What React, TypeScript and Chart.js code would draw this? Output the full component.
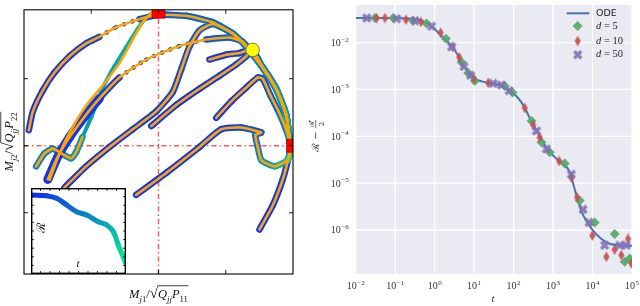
import React, { useEffect, useRef } from "react";
import { Chart, registerables } from "chart.js";
Chart.register(...registerables);

// ---------------- Left panel data (normalised overlaps) ----------------
const c1X = [-0.964, -0.934, -0.86, -0.773, -0.662, -0.538, -0.439, -0.315, -0.141, -0.005, 0.206, 0.404, 0.552, 0.664, 0.776, 0.875, 0.949, 0.979];
const c1Y = [0.116, 0.256, 0.413, 0.546, 0.667, 0.763, 0.812, 0.884, 0.944, 0.976, 0.969, 0.92, 0.836, 0.727, 0.582, 0.425, 0.232, 0.014];
const c2X = [-0.823, -0.749, -0.662, -0.538, -0.439, -0.29, -0.091, 0.156, 0.355, 0.528, 0.627, 0.677, 0.776, 0.875, 0.949, 0.979];
const c2Y = [-0.251, -0.082, 0.063, 0.232, 0.353, 0.509, 0.643, 0.744, 0.792, 0.807, 0.775, 0.715, 0.582, 0.425, 0.232, 0.014];
const o2X = [-0.81, -0.736, -0.647, -0.535, -0.416, -0.29, -0.193, -0.119, -0.052];
const o2Y = [-0.254, -0.058, 0.123, 0.304, 0.449, 0.616, 0.79, 0.92, 0.993];
const c3X = [-0.91, -0.848, -0.786, -0.721, -0.649, -0.61, -0.565, -0.498, -0.416, -0.327, -0.238, -0.156, -0.089, -0.03, 0.206, 0.404, 0.552, 0.664, 0.776, 0.875, 0.949, 0.979];
const c3Y = [-0.154, -0.058, -0.022, -0.058, -0.094, -0.043, 0.065, 0.217, 0.428, 0.594, 0.739, 0.87, 0.957, 0.993, 0.969, 0.92, 0.836, 0.727, 0.582, 0.425, 0.232, 0.014];
const c4X = [-0.699, -0.538, -0.364, -0.191, -0.017, 0.106, 0.169, 0.23, 0.305, 0.404, 0.552, 0.664, 0.776, 0.875, 0.949, 0.979];
const c4Y = [-0.312, -0.154, -0.009, 0.123, 0.256, 0.401, 0.57, 0.739, 0.86, 0.908, 0.836, 0.727, 0.582, 0.425, 0.232, 0.014];
const c5X = [-0.054, 0.132, 0.305, 0.454, 0.578, 0.652, 0.7, 0.776, 0.875, 0.949, 0.979];
const c5Y = [0.147, 0.304, 0.425, 0.522, 0.606, 0.667, 0.715, 0.582, 0.425, 0.232, 0.014];
const c6X = [0.379, 0.503, 0.602, 0.664, 0.776, 0.875, 0.949, 0.979];
const c6Y = [0.643, 0.679, 0.691, 0.71, 0.582, 0.425, 0.232, 0.014];
const c7X = [0.429, 0.543, 0.654, 0.738, 0.775, 0.83, 0.9, 0.96, 0.979];
const c7Y = [0.208, 0.333, 0.435, 0.509, 0.5, 0.38, 0.24, 0.09, 0.014];
const c8X = [-0.166, 0.057, 0.305, 0.466, 0.615, 0.764, 0.72, 0.738, 0.764, 0.862, 0.961, 0.987];
const c8Y = [-0.367, -0.203, -0.009, 0.123, 0.136, 0.099, 0.08, -0.009, -0.107, -0.154, -0.107, -0.034];
const c9X = [0.751, 0.85, 0.924, 0.969, 0.987];
const c9Y = [-0.625, -0.444, -0.251, -0.082, 0.014];
const fixedX = [0, 1];
const fixedY = [1, 0];
const circleX = [0.7];
const circleY = [0.715];
const leftTicks = [-0.5, 0, 0.5];

// inset
const insetT = [0.0, 0.165, 0.27, 0.376, 0.481, 0.586, 0.709, 0.797, 0.867, 0.919, 0.955, 0.995];
const insetR = [0.919, 0.91, 0.88, 0.802, 0.724, 0.686, 0.608, 0.57, 0.492, 0.337, 0.24, 0.13];

// ---------------- Right panel data ----------------
const odeT = [0.01, 0.288, 0.631, 1.02, 1.65, 2.69, 3.96, 5.3, 7.82, 11.5, 20.4, 44.7, 79.4, 117, 174, 257, 380, 562, 832, 1230, 2000, 2630, 3310, 4070, 5250, 6920, 10200, 16600, 26900, 49000, 100000];
const odeY = [0.0334, 0.0324, 0.0263, 0.0191, 0.01274, 0.00851, 0.00525, 0.00324, 0.00219, 0.00162, 0.00141, 0.00123, 0.000933, 0.000724, 0.000468, 0.000245, 0.000132, 7.41e-5, 4.57e-5, 3.31e-5, 2.4e-5, 1.74e-5, 9.1e-6, 4.79e-6, 2.51e-6, 1.58e-6, 9.8e-7, 6.5e-7, 5.1e-7, 4.7e-7, 4.6e-7];
const d5T = [0.0308, 0.0897, 0.288, 0.625, 1.93, 4.81, 7.1, 10.4, 60.0, 93.8, 284, 508, 826, 1980, 4740, 11350, 36400, 65300, 87300];
const d5Y = [0.0334, 0.0334, 0.0294, 0.0254, 0.01213, 0.00381, 0.00224, 0.00152, 0.00118, 0.000855, 0.000211, 7.43e-5, 4.58e-5, 2.61e-5, 4.25e-6, 1.45e-6, 8.2e-7, 2.1e-7, 2.47e-7];
const d10T = [0.034, 0.0552, 0.188, 0.45, 1.42, 2.84, 4.2, 9.86, 22.8, 192, 313, 461, 1420, 2920, 4060, 9910, 22400, 36400, 53700, 79300, 96200];
const d10Y = [0.0334, 0.0334, 0.0308, 0.0275, 0.0162, 0.0081, 0.00485, 0.00171, 0.00138, 0.000402, 0.000174, 9.46e-5, 2.97e-5, 1.31e-5, 4.99e-6, 7.6e-7, 2.68e-7, 3.81e-7, 2.9e-7, 6.49e-7, 1.94e-7];
const d50T = [0.019, 0.109, 0.317, 0.838, 2.69, 5.51, 8.13, 30.4, 49.4, 77.3, 380, 681, 2920, 5750, 8170, 20300, 48800, 71900];
const d50Y = [0.0334, 0.0324, 0.0294, 0.0223, 0.0081, 0.00309, 0.002, 0.00134, 0.00124, 0.000942, 0.00013, 5.38e-5, 1.54e-5, 2.75e-6, 1.45e-6, 4.7e-7, 4.7e-7, 4.7e-7];
const xTickExps = [-2, -1, 0, 1, 2, 3, 4, 5];
const yTickExps = [-2, -3, -4, -5, -6];
const legendLabels = ["ODE", "d = 5", "d = 10", "d = 50"];

// ---------------- helpers ----------------
const SERIF = '"Liberation Serif", "DejaVu Serif", serif';
const pts = (xs: number[], ys: number[]) => xs.map((x, i) => ({ x, y: ys[i] }));
const winter = (f: number) => `rgb(${Math.round(20 * (1 - f))},${Math.round(40 + 190 * f)},${Math.round(240 - 95 * f)})`;

type Part = { t: string; it?: boolean; sub?: boolean; sup?: boolean; ov?: boolean; big?: boolean };
function drawMath(ctx: CanvasRenderingContext2D, parts: Part[], x: number, y: number, size: number, color: string, align = "center") {
  const fontFor = (p: Part) => `${p.it ? "italic " : ""}${p.sub || p.sup ? size * 0.7 : p.big ? size * 1.2 : size}px ${SERIF}`;
  const widths = parts.map((p) => { ctx.font = fontFor(p); return ctx.measureText(p.t).width; });
  const total = widths.reduce((a, b) => a + b, 0);
  let cx = align === "center" ? x - total / 2 : align === "right" ? x - total : x;
  ctx.fillStyle = color;
  ctx.textAlign = "left";
  ctx.textBaseline = "alphabetic";
  let ovS: number | null = null;
  let ovE = 0;
  parts.forEach((p, i) => {
    ctx.font = fontFor(p);
    const dy = p.sub ? size * 0.28 : p.sup ? -size * 0.42 : 0;
    ctx.fillText(p.t, cx, y + dy);
    if (p.ov) { if (ovS === null) ovS = cx; ovE = cx + widths[i]; }
    cx += widths[i];
  });
  if (ovS !== null) {
    ctx.strokeStyle = color;
    ctx.lineWidth = 0.8;
    ctx.beginPath();
    ctx.moveTo(ovS - 0.5, y - size * 0.98);
    ctx.lineTo(ovE + 0.5, y - size * 0.98);
    ctx.stroke();
  }
}

function drawPow(ctx: CanvasRenderingContext2D, exp: number, x: number, y: number, align: string) {
  const e = exp < 0 ? "\u2212" + -exp : String(exp);
  ctx.font = `10px ${SERIF}`;
  const wb = ctx.measureText("10").width;
  ctx.font = `7px ${SERIF}`;
  const we = ctx.measureText(e).width;
  const total = wb + we + 0.5;
  const sx = align === "center" ? x - total / 2 : x - total;
  ctx.fillStyle = "#333";
  ctx.textAlign = "left";
  ctx.textBaseline = "alphabetic";
  ctx.font = `10px ${SERIF}`;
  ctx.fillText("10", sx, y);
  ctx.font = `7px ${SERIF}`;
  ctx.fillText(e, sx + wb + 0.5, y - 4.5);
}

export default function App() {
  const leftRef = useRef<HTMLCanvasElement>(null);
  const rightRef = useRef<HTMLCanvasElement>(null);
  const insetRef = useRef<HTMLCanvasElement>(null);

  useEffect(() => {
    const charts: Chart[] = [];

    // ---------- LEFT ----------
    const curveCfg = [
      { x: c1X, y: c1Y, f0: 0.05, f1: 0.65, dots: [6, 8], wide: [-1, -1], thin: [-1, -1], orange: true },
      { x: c2X, y: c2Y, f0: 0.05, f1: 0.6, dots: [5, 8], wide: [0, 4], thin: [-1, -1], orange: true },
      { x: c3X, y: c3Y, f0: 0.45, f1: 0.95, dots: [-1, -1], wide: [-1, -1], thin: [6, 14], orange: false },
      { x: c4X, y: c4Y, f0: 0.05, f1: 0.7, dots: [-1, -1], wide: [-1, -1], thin: [-1, -1], orange: true },
      { x: c5X, y: c5Y, f0: 0.05, f1: 0.5, dots: [-1, -1], wide: [-1, -1], thin: [-1, -1], orange: true },
      { x: c6X, y: c6Y, f0: 0.05, f1: 0.45, dots: [-1, -1], wide: [-1, -1], thin: [-1, -1], orange: true },
      { x: c7X, y: c7Y, f0: 0.05, f1: 0.5, dots: [-1, -1], wide: [-1, -1], thin: [-1, -1], orange: true },
      { x: c8X, y: c8Y, f0: 0.05, f1: 0.85, dots: [-1, -1], wide: [-1, -1], thin: [-1, -1], orange: true },
      { x: c9X, y: c9Y, f0: 0.05, f1: 0.25, dots: [-1, -1], wide: [-1, -1], thin: [-1, -1], orange: true },
    ];
    const inR = (i: number, r: number[]) => i >= r[0] && i < r[1];
    const leftDatasets: any[] = [];
    curveCfg.forEach((c, ci) => {
      const n = c.x.length;
      const prog = (i: number) => {
        const u = i / Math.max(1, n - 2);
        return ci === 2 ? u : u * u;
      };
      leftDatasets.push({
        data: pts(c.x, c.y), showLine: true, pointRadius: 0, borderWidth: 6.5, tension: 0.18,
        borderCapStyle: "round", borderJoinStyle: "round", borderColor: winter(c.f0), order: 2,
        segment: {
          borderColor: (ctx: any) => winter(c.f0 + (c.f1 - c.f0) * prog(ctx.p0DataIndex)),
          borderDash: (ctx: any) => (inR(ctx.p0DataIndex, c.dots) ? [0.1, 8.5] : undefined),
          borderWidth: (ctx: any) => (inR(ctx.p0DataIndex, c.dots) ? 4.5 : inR(ctx.p0DataIndex, c.wide) ? 9 : inR(ctx.p0DataIndex, c.thin) ? 4 : undefined),
        },
      });
      leftDatasets.push({
        data: c.orange ? pts(c.x, c.y) : pts(c.x.slice(0, 7), c.y.slice(0, 7)),
        showLine: true, pointRadius: 0, borderWidth: 2.6, tension: 0.18,
        borderCapStyle: "round", borderJoinStyle: "round", borderColor: "#FFA500", order: 1,
      });
    });
    leftDatasets.push({
      data: pts(o2X, o2Y), showLine: true, pointRadius: 0, borderWidth: 2.6, tension: 0.18,
      borderCapStyle: "round", borderColor: "#FFA500", order: 1,
    });
    // crosshair
    leftDatasets.push({
      data: [{ x: 0, y: -0.957 }, { x: 0, y: 1.014 }], showLine: true, pointRadius: 0, borderWidth: 1.5,
      borderColor: "rgba(255,60,60,0.85)", borderDash: [5, 3, 1.5, 3], order: 5,
    });
    leftDatasets.push({
      data: [{ x: -1, y: 0 }, { x: 1, y: 0 }], showLine: true, pointRadius: 0, borderWidth: 1.5,
      borderColor: "rgba(255,60,60,0.85)", borderDash: [5, 3, 1.5, 3], order: 5,
    });
    leftDatasets.push({
      data: pts(fixedX, fixedY), showLine: false, pointStyle: "rect", pointRadius: 9.2,
      backgroundColor: "#ff0000", borderColor: "#700000", borderWidth: 0.6, order: 0, clip: 0,
    });
    leftDatasets.push({
      data: pts(circleX, circleY), showLine: false, pointStyle: "circle", pointRadius: 6.8,
      backgroundColor: "#ffff00", borderColor: "#444", borderWidth: 0.7, order: 0,
    });

    const leftPlugin = {
      id: "leftDeco",
      afterDraw(chart: any) {
        const ctx = chart.ctx as CanvasRenderingContext2D;
        const { left, right, top, bottom } = chart.chartArea;
        const xs = chart.scales.x, ys = chart.scales.y;
        ctx.save();
        ctx.strokeStyle = "#000";
        ctx.lineWidth = 1.1;
        ctx.strokeRect(left, top, right - left, bottom - top);
        ctx.lineWidth = 0.9;
        ctx.beginPath();
        leftTicks.forEach((v) => {
          const px = xs.getPixelForValue(v);
          ctx.moveTo(px, bottom); ctx.lineTo(px, bottom - 4);
          ctx.moveTo(px, top); ctx.lineTo(px, top + 4);
          const py = ys.getPixelForValue(v);
          ctx.moveTo(left, py); ctx.lineTo(left + 4, py);
          ctx.moveTo(right, py); ctx.lineTo(right - 4, py);
        });
        ctx.stroke();
        drawMath(ctx, [
          { t: "M", it: true }, { t: "j", it: true, sub: true }, { t: "1", sub: true }, { t: "/" }, { t: "\u221A", big: true },
          { t: "Q", it: true, ov: true }, { t: "jj", it: true, sub: true, ov: true }, { t: "P", it: true, ov: true }, { t: "11", sub: true, ov: true },
        ], (left + right) / 2, 298, 12.5, "#111");
        ctx.translate(13, (top + bottom) / 2);
        ctx.rotate(-Math.PI / 2);
        drawMath(ctx, [
          { t: "M", it: true }, { t: "j", it: true, sub: true }, { t: "2", sub: true }, { t: "/" }, { t: "\u221A", big: true },
          { t: "Q", it: true, ov: true }, { t: "jj", it: true, sub: true, ov: true }, { t: "P", it: true, ov: true }, { t: "22", sub: true, ov: true },
        ], 0, 0, 12.5, "#111");
        ctx.restore();
      },
    };

    charts.push(new Chart(leftRef.current!, {
      type: "scatter",
      data: { datasets: leftDatasets },
      options: {
        responsive: false, animation: false,
        layout: { padding: { left: 24, right: 27, top: 2, bottom: 32 } },
        plugins: { legend: { display: false }, tooltip: { enabled: false } },
        scales: {
          x: { type: "linear", min: -1, max: 1, display: false },
          y: { type: "linear", min: -0.957, max: 1.014, display: false },
        },
      },
      plugins: [leftPlugin],
    } as any));

    // ---------- INSET ----------
    const nI = insetT.length;
    const insetPlugin = {
      id: "insetDeco",
      beforeDatasetsDraw(chart: any) {
        const ctx = chart.ctx as CanvasRenderingContext2D;
        ctx.save();
        ctx.fillStyle = "#fff";
        ctx.fillRect(0, 0, chart.width, chart.height);
        ctx.restore();
      },
      afterDraw(chart: any) {
        const ctx = chart.ctx as CanvasRenderingContext2D;
        const w = chart.width, h = chart.height;
        ctx.save();
        ctx.strokeStyle = "#000";
        ctx.lineWidth = 1.4;
        ctx.strokeRect(0.7, 0.7, w - 1.4, h - 1.4);
        ctx.lineWidth = 0.8;
        ctx.beginPath();
        for (let i = 1; i < 10; i++) {
          const px = (w * i) / 10, py = (h * i) / 10;
          ctx.moveTo(px, h); ctx.lineTo(px, h - 3);
          ctx.moveTo(px, 0); ctx.lineTo(px, 3);
          ctx.moveTo(0, py); ctx.lineTo(3, py);
          ctx.moveTo(w, py); ctx.lineTo(w - 3, py);
        }
        ctx.stroke();
        ctx.fillStyle = "#111";
        ctx.font = `italic 11px ${SERIF}`;
        ctx.textAlign = "center";
        ctx.textBaseline = "middle";
        ctx.fillText("t", 47, 76);
        ctx.translate(11, 40);
        ctx.rotate(-Math.PI / 2);
        ctx.font = `12px "DejaVu Serif", serif`;
        ctx.fillText("\u211B", 0, 0);
        ctx.restore();
      },
    };
    charts.push(new Chart(insetRef.current!, {
      type: "scatter",
      data: {
        datasets: [{
          data: pts(insetT, insetR), showLine: true, pointRadius: 0, borderWidth: 5, tension: 0.35,
          borderCapStyle: "round", borderColor: winter(0.05),
          segment: { borderColor: (ctx: any) => winter(0.05 + (0.95 * ctx.p0DataIndex) / (nI - 2)) },
        }],
      },
      options: {
        responsive: false, animation: false,
        layout: { padding: 0 },
        plugins: { legend: { display: false }, tooltip: { enabled: false } },
        scales: { x: { type: "linear", min: 0, max: 1, display: false }, y: { type: "linear", min: 0, max: 1, display: false } },
      },
      plugins: [insetPlugin],
    } as any));

    // ---------- RIGHT ----------
    const thinDiamond = document.createElement("canvas");
    thinDiamond.width = 7; thinDiamond.height = 11;
    {
      const c = thinDiamond.getContext("2d")!;
      c.fillStyle = "rgba(196,78,82,0.92)";
      c.beginPath(); c.moveTo(3.5, 0.3); c.lineTo(6.6, 5.5); c.lineTo(3.5, 10.7); c.lineTo(0.4, 5.5); c.closePath(); c.fill();
    }
    const xMark = document.createElement("canvas");
    xMark.width = 10; xMark.height = 10;
    {
      const c = xMark.getContext("2d")!;
      c.strokeStyle = "rgba(129,114,178,0.92)";
      c.lineWidth = 3.2;
      c.beginPath(); c.moveTo(1.5, 1.5); c.lineTo(8.5, 8.5); c.moveTo(1.5, 8.5); c.lineTo(8.5, 1.5); c.stroke();
    }
    const GREEN = "rgba(85,168,104,0.92)";
    const BLUE = "#4C72B0";

    const rightPlugin = {
      id: "rightDeco",
      beforeDatasetsDraw(chart: any) {
        const ctx = chart.ctx as CanvasRenderingContext2D;
        const { left, right, top, bottom } = chart.chartArea;
        const xs = chart.scales.x, ys = chart.scales.y;
        ctx.save();
        ctx.fillStyle = "#EAEAF2";
        ctx.fillRect(left, top, right - left, bottom - top);
        ctx.strokeStyle = "#fff";
        ctx.lineWidth = 1.3;
        ctx.beginPath();
        xTickExps.forEach((e) => { const px = xs.getPixelForValue(Math.pow(10, e)); ctx.moveTo(px, top); ctx.lineTo(px, bottom); });
        yTickExps.forEach((e) => { const py = ys.getPixelForValue(Math.pow(10, e)); ctx.moveTo(left, py); ctx.lineTo(right, py); });
        ctx.stroke();
        ctx.restore();
      },
      afterDraw(chart: any) {
        const ctx = chart.ctx as CanvasRenderingContext2D;
        const { left, bottom } = chart.chartArea;
        const xs = chart.scales.x, ys = chart.scales.y;
        ctx.save();
        xTickExps.forEach((e) => drawPow(ctx, e, xs.getPixelForValue(Math.pow(10, e)), bottom + 15, "center"));
        yTickExps.forEach((e) => drawPow(ctx, e, left - 7, ys.getPixelForValue(Math.pow(10, e)) + 3.5, "right"));
        ctx.fillStyle = "#333";
        ctx.font = `italic 11px ${SERIF}`;
        ctx.textAlign = "center";
        ctx.textBaseline = "alphabetic";
        ctx.fillText("t", 193, 302);
        // y title
        ctx.save();
        ctx.translate(19, 136);
        ctx.rotate(-Math.PI / 2);
        ctx.font = `10px "DejaVu Serif", serif`;
        ctx.textAlign = "left";
        const s1 = "\u211B \u2212 ";
        const w1 = ctx.measureText(s1).width;
        const x0 = -(w1 + 8) / 2;
        ctx.fillText(s1, x0, 0);
        ctx.font = `7px "DejaVu Serif", serif`;
        ctx.textAlign = "center";
        ctx.fillText("\u211B\u0302", x0 + w1 + 4, -5);
        ctx.fillText("2", x0 + w1 + 4, 5);
        ctx.strokeStyle = "#333"; ctx.lineWidth = 0.7;
        ctx.beginPath(); ctx.moveTo(x0 + w1, -3.3); ctx.lineTo(x0 + w1 + 8, -3.3); ctx.stroke();
        ctx.restore();
        // legend
        const lx = 277.7;
        ctx.strokeStyle = BLUE; ctx.lineWidth = 2;
        ctx.beginPath(); ctx.moveTo(266.7, 13.3); ctx.lineTo(289.3, 13.3); ctx.stroke();
        ctx.fillStyle = GREEN;
        ctx.beginPath(); ctx.moveTo(lx, 21); ctx.lineTo(lx + 5, 26); ctx.lineTo(lx, 31); ctx.lineTo(lx - 5, 26); ctx.closePath(); ctx.fill();
        ctx.drawImage(thinDiamond, lx - 3.5, 41 - 5.5);
        ctx.drawImage(xMark, lx - 5, 54.7 - 5);
        ctx.fillStyle = "#222";
        ctx.textAlign = "left";
        ctx.textBaseline = "middle";
        ctx.font = `9.5px "DejaVu Sans", sans-serif`;
        ctx.fillText(legendLabels[0], 296, 13.5);
        [26, 41, 54.7].forEach((y, i) => {
          const txt = legendLabels[i + 1];
          ctx.font = `italic 10.5px ${SERIF}`;
          ctx.fillText(txt.slice(0, 1), 296, y);
          const w = ctx.measureText(txt.slice(0, 1)).width;
          ctx.font = `10.5px ${SERIF}`;
          ctx.fillText(txt.slice(1), 296 + w, y);
        });
        ctx.restore();
      },
    };

    charts.push(new Chart(rightRef.current!, {
      type: "scatter",
      data: {
        datasets: [
          { data: pts(odeT, odeY), showLine: true, pointRadius: 0, borderColor: BLUE, borderWidth: 2, tension: 0.35, order: 3 },
          { data: pts(d5T, d5Y), pointStyle: "rectRot", pointRadius: 5, backgroundColor: GREEN, borderWidth: 0, order: 2 },
          { data: pts(d10T, d10Y), pointStyle: thinDiamond, pointRadius: 4, order: 1 },
          { data: pts(d50T, d50Y), pointStyle: xMark, pointRadius: 4, order: 0 },
        ],
      },
      options: {
        responsive: false, animation: false,
        layout: { padding: { left: 55.7, right: 8, top: 0, bottom: 32 } },
        plugins: { legend: { display: false }, tooltip: { enabled: false } },
        scales: {
          x: { type: "logarithmic", min: 0.01, max: 100000, display: false },
          y: { type: "logarithmic", min: 1.15e-7, max: 0.0634, display: false },
        },
      },
      plugins: [rightPlugin],
    } as any));

    return () => charts.forEach((c) => c.destroy());
  }, []);

  return (
    <div style={{ position: "fixed", left: 0, top: 0, width: 640, height: 306, background: "#fff", overflow: "hidden" }}>
      <canvas ref={leftRef} width={320} height={306} style={{ position: "absolute", left: 0, top: 0 }} />
      <canvas ref={rightRef} width={340} height={306} style={{ position: "absolute", left: 300, top: 0 }} />
      <canvas ref={insetRef} width={95} height={86} style={{ position: "absolute", left: 31, top: 188 }} />
    </div>
  );
}
